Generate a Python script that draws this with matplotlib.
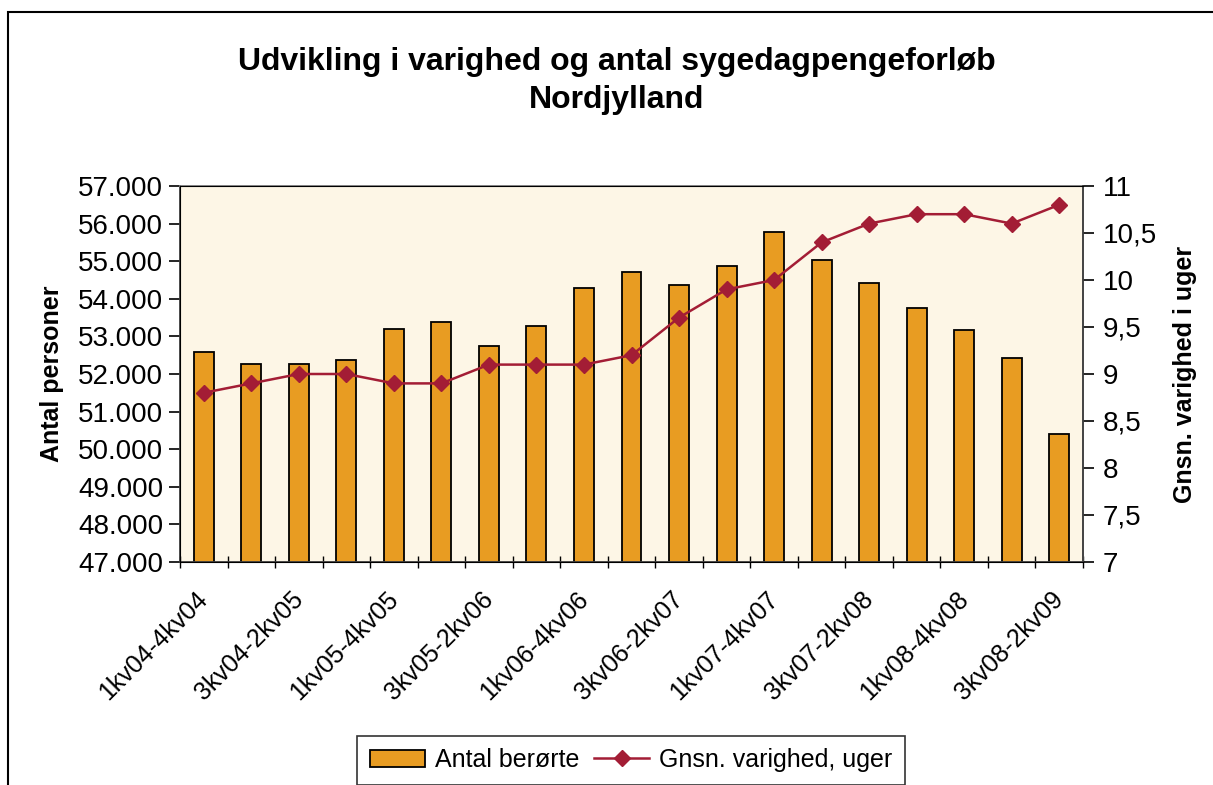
import numpy as np
import matplotlib.pyplot as plt
from matplotlib.patches import Rectangle
from matplotlib.ticker import FixedLocator, FuncFormatter
from matplotlib.transforms import ScaledTranslation

plt.rcParams['font.family'] = ['Liberation Sans', 'DejaVu Sans']

# data
periods = ['1kv04-4kv04', '2kv04-1kv05', '3kv04-2kv05', '4kv04-3kv05',
           '1kv05-4kv05', '2kv05-1kv06', '3kv05-2kv06', '4kv05-3kv06',
           '1kv06-4kv06', '2kv06-1kv07', '3kv06-2kv07', '4kv06-3kv07',
           '1kv07-4kv07', '2kv07-1kv08', '3kv07-2kv08', '4kv07-3kv08',
           '1kv08-4kv08', '2kv08-1kv09', '3kv08-2kv09']
antal = [52580, 52260, 52260, 52360, 53210, 53370, 52740, 53270,
         54280, 54700, 54380, 54860, 55770, 55030, 54430, 53750,
         53160, 52420, 50410]
varighed = [8.8, 8.9, 9.0, 9.0, 8.9, 8.9, 9.1, 9.1, 9.1, 9.2,
            9.6, 9.9, 10.0, 10.4, 10.6, 10.7, 10.7, 10.6, 10.8]

bar_color = '#E89C22'
line_color = '#A31D35'
bg_color = '#FDF6E6'

fig = plt.figure(figsize=(12.13, 7.85), dpi=100)
W, H = 1213, 785

# outer chart frame (left/top visible)
fig.patches.append(Rectangle((8 / W, -0.1), 1.2, (H - 12) / H + 0.1,
                             transform=fig.transFigure, fill=False,
                             edgecolor='black', linewidth=1.5))

ax = fig.add_axes([180 / W, (H - 562) / H, 903 / W, 376 / H])
ax.set_facecolor(bg_color)
x = np.arange(len(periods))
ax.bar(x, antal, width=0.42, color=bar_color, edgecolor='black',
       linewidth=1.3, label='Antal berørte', zorder=2)
ax.set_xlim(-0.5, len(periods) - 0.5)
ax.set_ylim(47000, 57000)
ax.set_yticks(np.arange(47000, 57001, 1000))
ax.yaxis.set_major_formatter(FuncFormatter(lambda v, p: f'{int(v):,}'.replace(',', '.')))
ax.tick_params(axis='y', labelsize=20, length=8, width=1.2, direction='out', pad=4)

# x ticks at category boundaries, labels every other category
ax.xaxis.set_major_locator(FixedLocator(np.arange(-0.5, len(periods), 1.0)))
ax.xaxis.set_major_formatter(FuncFormatter(lambda v, p: ''))
ax.tick_params(axis='x', length=8, width=1.0, direction='inout')
ax.xaxis.set_minor_locator(FixedLocator(x[::2]))
ax.set_xticklabels([periods[i] for i in x[::2]], minor=True)
ax.tick_params(axis='x', which='minor', length=0, labelsize=18, pad=10)
shift = ScaledTranslation(-8 / 100, -11 / 100, fig.dpi_scale_trans)
for lbl in ax.get_xticklabels(minor=True):
    lbl.set_rotation(45)
    lbl.set_ha('right')
    lbl.set_va('top')
    lbl.set_rotation_mode('anchor')
    lbl.set_transform(lbl.get_transform() + shift)

for s in ['top', 'right']:
    ax.spines[s].set_color('#808080')
for s in ['left', 'bottom']:
    ax.spines[s].set_color('#404040')
for s in ax.spines.values():
    s.set_linewidth(1.3)

ax.set_ylabel('Antal personer', fontsize=18, fontweight='bold', labelpad=10)

ax2 = ax.twinx()
ax2.plot(x, varighed, color=line_color, linewidth=1.8, marker='D',
         markersize=8, markerfacecolor=line_color, markeredgecolor=line_color,
         label='Gnsn. varighed, uger', zorder=3)
ax2.set_ylim(7, 11)
ax2.set_yticks(np.arange(7, 11.01, 0.5))
ax2.yaxis.set_major_formatter(FuncFormatter(
    lambda v, p: (f'{v:g}').replace('.', ',')))
ax2.tick_params(axis='y', labelsize=20, length=8, width=1.2, direction='out', pad=6)
ax2.spines['right'].set_color('#404040')
ax2.spines['right'].set_linewidth(1.3)
ax2.set_ylabel('Gnsn. varighed i uger', fontsize=18, fontweight='bold', labelpad=12)

fig.text(617 / W, 1 - 62 / H, 'Udvikling i varighed og antal sygedagpengeforløb',
         ha='center', va='center', fontsize=23, fontweight='bold')
fig.text(617 / W, 1 - 100 / H, 'Nordjylland',
         ha='center', va='center', fontsize=23, fontweight='bold')

h1, l1 = ax.get_legend_handles_labels()
h2, l2 = ax2.get_legend_handles_labels()
leg = fig.legend(h1 + h2, l1 + l2, loc='center', bbox_to_anchor=(631 / W, 1 - 760 / H),
                 ncol=2, fontsize=18, frameon=True, fancybox=False,
                 handlelength=2.2, handletextpad=0.4, columnspacing=0.6,
                 borderpad=0.5, edgecolor='black')
leg.get_frame().set_linewidth(1.2)

fig.savefig('out.png', dpi=100)
